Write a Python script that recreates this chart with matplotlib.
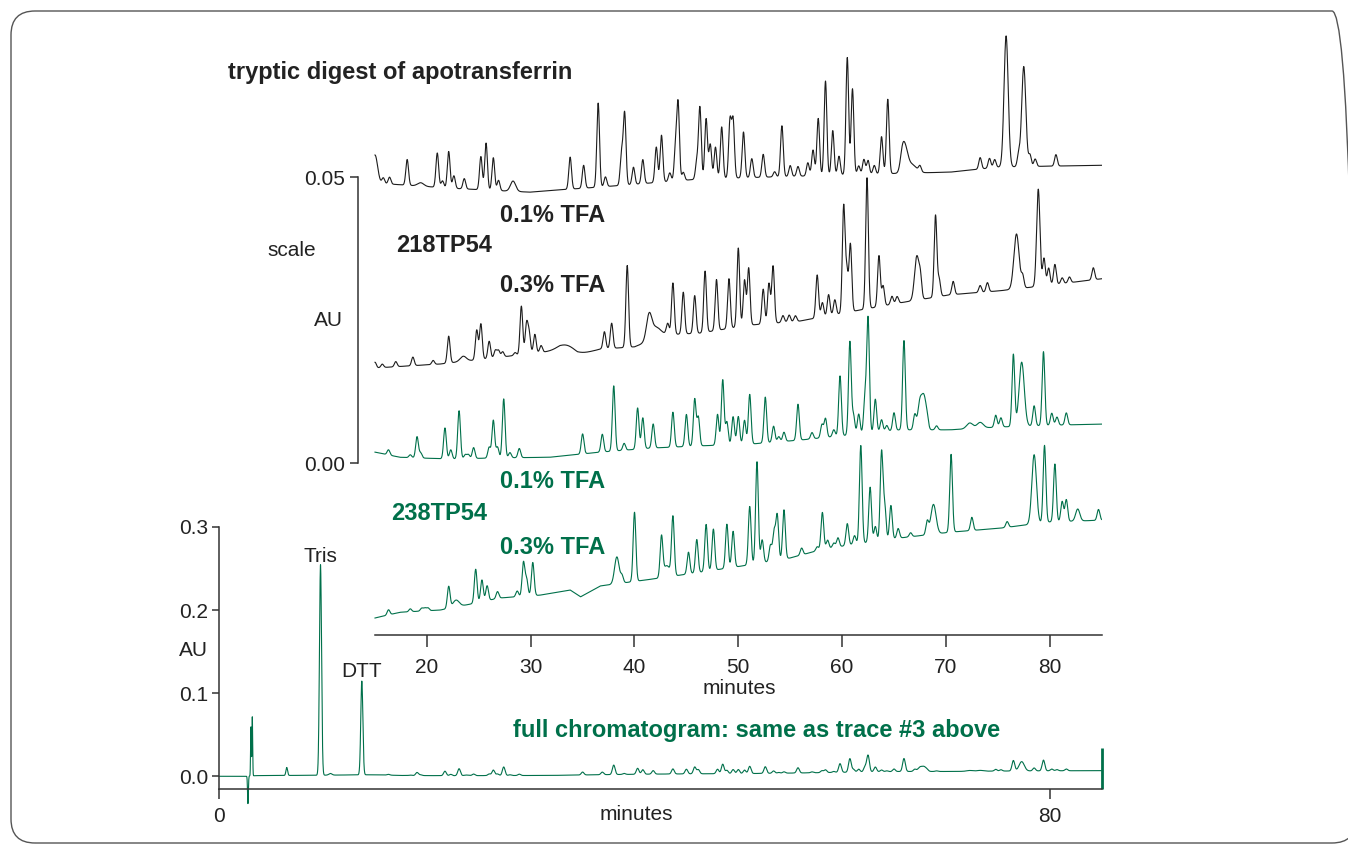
import numpy as np
import matplotlib.pyplot as plt
from matplotlib.patches import FancyBboxPatch
from matplotlib.transforms import IdentityTransform

plt.rcParams['font.family'] = ['Liberation Sans', 'DejaVu Sans']

# ---- data (minutes, AU) ----
# trace 1: 218TP54, 0.1% TFA
t1_base_min = [15.0, 22.2, 29.9, 32.8, 36.7, 46.3, 55.9, 65.6, 70.4, 75.2, 85.0]
t1_base_au = [0, -0.0009, -0.0016, -0.0012, -0.0007, 0.0007, 0.0012, 0.0017, 0.0019, 0.0028, 0.0031]
t1_peaks = [(15.0, 0.0049), (15.8, 0.0010), (16.4, 0.0012), (18.1, 0.0045), (19.4, 0.0006),
            (21.0, 0.0060), (21.5, 0.0012), (22.1, 0.0064), (22.6, 0.0022), (23.6, 0.0018),
            (25.2, 0.0058), (25.7, 0.0082), (26.4, 0.0057), (26.9, 0.0018), (28.3, 0.0018),
            (33.8, 0.0056), (35.1, 0.0040), (36.5, 0.0147), (37.2, 0.0017), (38.75, 0.0055),
            (39.05, 0.0125), (39.9, 0.0030), (40.8, 0.0042), (42.1, 0.0062), (42.6, 0.0082),
            (43.4, 0.0015), (43.95, 0.0055), (44.2, 0.0132), (44.7, 0.0014), (46.0, 0.0030),
            (46.3, 0.0125), (46.9, 0.0105), (47.3, 0.0060), (47.8, 0.0055), (48.4, 0.0090),
            (49.2, 0.0100), (49.5, 0.0100), (50.5, 0.0080), (51.3, 0.0033), (52.4, 0.0040),
            (53.5, 0.0009), (54.2, 0.0089), (55.0, 0.0019), (55.75, 0.0017), (56.7, 0.0023),
            (57.2, 0.0045), (57.7, 0.0100), (58.4, 0.0165), (59.1, 0.0078), (59.7, 0.0033),
            (60.5, 0.0205), (61.0, 0.0150), (61.6, 0.0015), (62.1, 0.0026), (62.5, 0.0024),
            (63.1, 0.0015), (63.8, 0.0065), (64.4, 0.0130), (65.8, 0.0030), (66.1, 0.0035),
            (66.7, 0.0015), (67.5, 0.0010), (73.3, 0.0020), (74.2, 0.0017), (74.7, 0.0014),
            (75.8, 0.0229), (77.0, 0.0020), (77.5, 0.0175), (78.1, 0.0020), (78.6, 0.0013),
            (80.6, 0.0020)]
t1_broad = {15.0: 0.25, 19.4: 0.3, 28.3: 0.25, 65.8: 0.2, 66.1: 0.25, 66.7: 0.45,
            75.8: 0.2, 77.5: 0.2}

# trace 2: 218TP54, 0.3% TFA
t2_base_min = [15.0, 21.3, 29.0, 32.8, 34.5, 36.7, 40.0, 43.0, 46.3, 51.1, 55.9, 60.7, 65.6,
               70.4, 75.2, 80.0, 85.0]
t2_base_au = [0, 0.0007, 0.0023, 0.0031, 0.0023, 0.0033, 0.0037, 0.0058, 0.0061, 0.0075,
              0.0082, 0.0098, 0.0114, 0.0128, 0.0135, 0.0145, 0.0156]
t2_peaks = [(15.0, 0.0010), (15.7, 0.0006), (17.0, 0.0009), (18.65, 0.0015), (20.6, 0.0007),
            (22.1, 0.0047), (23.5, 0.0009), (24.8, 0.0052), (25.2, 0.0062), (26.0, 0.0030),
            (26.6, 0.0013), (26.9, 0.0012), (27.3, 0.0009), (28.5, 0.0005), (29.1, 0.0085),
            (29.6, 0.0052), (29.85, 0.0035), (30.4, 0.0033), (31.0, 0.0012), (33.5, 0.0012),
            (37.1, 0.0030), (37.8, 0.0044), (39.3, 0.0143), (41.4, 0.0040), (42.0, 0.0020),
            (43.2, 0.0019), (43.7, 0.0090), (44.7, 0.0073), (45.8, 0.0066), (46.8, 0.0107),
            (47.9, 0.0089), (49.1, 0.0087), (50.0, 0.0138), (50.6, 0.0080), (51.0, 0.0100),
            (52.4, 0.0061), (52.95, 0.0070), (53.35, 0.0100), (54.3, 0.0012), (54.9, 0.0012),
            (55.5, 0.0010), (57.6, 0.0075), (58.1, 0.0025), (58.7, 0.0037), (59.3, 0.0026),
            (60.15, 0.0185), (60.45, 0.0070), (60.8, 0.0118), (62.4, 0.0229), (63.55, 0.0089),
            (63.95, 0.0035), (64.8, 0.0014), (65.3, 0.0012), (67.2, 0.0077), (67.55, 0.0030),
            (69.0, 0.0143), (69.35, 0.0030), (70.7, 0.0023), (73.3, 0.0012), (74.0, 0.0016),
            (76.8, 0.0096), (77.4, 0.0020), (78.9, 0.0170), (79.45, 0.0048), (79.9, 0.0030),
            (80.5, 0.0035), (81.2, 0.0010), (81.9, 0.0010), (84.2, 0.0021)]
t2_broad = {23.5: 0.3, 33.5: 0.8, 41.4: 0.25, 42.0: 0.5, 67.2: 0.22, 76.8: 0.25, 78.9: 0.16}

# trace 3: 238TP54, 0.1% TFA (also the full chromatogram)
t3_base_min = [0, 2.6, 3.5, 9.0, 15.0, 17.4, 22.2, 27.0, 31.8, 36.7, 41.5, 46.3, 51.1, 55.9,
               60.7, 65.6, 70.4, 75.2, 80.0, 85.0]
t3_base_au = [0.0, 0.0, 0.0008, 0.0012, 0.0019, 0.0010, 0.0007, 0.0009, 0.0010, 0.0019,
              0.0026, 0.0030, 0.0033, 0.0040, 0.0049, 0.0058, 0.0058, 0.0063, 0.0066, 0.0068]
t3_peaks = [(16.3, 0.0009), (18.4, 0.0005), (19.05, 0.0037), (19.4, 0.0009), (21.74, 0.0054),
            (22.3, 0.0016), (23.1, 0.0084), (23.7, 0.0007), (24.0, 0.0007), (24.5, 0.0019),
            (26.0, 0.0019), (26.4, 0.0066), (26.8, 0.0019), (27.4, 0.0103), (28.0, 0.0009),
            (28.9, 0.0016), (35.0, 0.0035), (36.9, 0.0031), (38.0, 0.0114), (39.0, 0.0012),
            (40.3, 0.0072), (40.8, 0.0054), (41.8, 0.0042), (43.7, 0.0061), (45.0, 0.0056),
            (45.8, 0.0082), (46.15, 0.0050), (48.0, 0.0054), (48.5, 0.0114), (48.9, 0.0040),
            (49.5, 0.0049), (50.0, 0.0049), (50.6, 0.0042), (51.1, 0.0087), (52.6, 0.0080),
            (53.4, 0.0028), (53.9, 0.0009), (54.4, 0.0016), (55.75, 0.0063), (57.1, 0.0011),
            (58.06, 0.0023), (58.4, 0.0033), (59.2, 0.0012), (59.8, 0.0105), (60.75, 0.0163),
            (61.1, 0.0033), (61.6, 0.0035), (62.2, 0.0060), (62.5, 0.0200), (63.2, 0.0058),
            (63.8, 0.0021), (64.3, 0.0010), (65.0, 0.0031), (65.96, 0.0156), (67.0, 0.0026),
            (67.5, 0.0049), (67.9, 0.0054), (68.2, 0.0014), (69.1, 0.0007), (72.3, 0.0010),
            (73.3, 0.0010), (74.8, 0.0021), (75.3, 0.0016), (76.5, 0.0126), (77.3, 0.0112),
            (78.5, 0.0035), (79.4, 0.0129), (80.2, 0.0021), (80.7, 0.0014), (81.6, 0.0021)]
t3_broad = {67.5: 0.2, 67.9: 0.2, 72.3: 0.3, 73.3: 0.3, 77.3: 0.25}

# trace 4: 238TP54, 0.3% TFA
t4_base_min = [15.0, 17.4, 21.3, 24.1, 27.0, 30.9, 33.8, 34.8, 36.7, 39.6, 42.5, 46.3, 51.1,
               55.0, 57.9, 60.8, 65.6, 70.4, 75.2, 80.0, 85.0]
t4_base_au = [0, 0.0010, 0.0014, 0.0024, 0.0035, 0.0040, 0.0049, 0.0037, 0.0056, 0.0063,
              0.0070, 0.0080, 0.0093, 0.0105, 0.0119, 0.0128, 0.0140, 0.0150, 0.0157, 0.0168,
              0.0171]
t4_peaks = [(16.3, 0.0009), (18.4, 0.0005), (19.5, 0.0005), (19.8, 0.0005), (20.1, 0.0005),
            (22.1, 0.0038), (22.8, 0.0012), (24.7, 0.0059), (25.3, 0.0038), (25.8, 0.0026),
            (26.8, 0.0012), (28.7, 0.0010), (29.3, 0.0059), (29.6, 0.0030), (30.2, 0.0058),
            (38.3, 0.0047), (38.8, 0.0012), (40.0, 0.0121), (42.6, 0.0070), (43.1, 0.0020),
            (43.7, 0.0103), (45.2, 0.0038), (46.0, 0.0058), (46.9, 0.0082), (47.6, 0.0072),
            (48.9, 0.0077), (49.5, 0.0063), (51.1, 0.0102), (51.8, 0.0178), (52.3, 0.0040),
            (53.1, 0.0028), (53.45, 0.0050), (53.75, 0.0078), (54.4, 0.0086), (56.1, 0.0012),
            (57.6, 0.0007), (58.1, 0.0065), (58.6, 0.0015), (59.2, 0.0008), (59.6, 0.0016),
            (60.5, 0.0038), (61.2, 0.0015), (61.8, 0.0171), (62.7, 0.0096), (63.2, 0.0026),
            (63.8, 0.0154), (64.1, 0.0060), (64.7, 0.0059), (65.4, 0.0017), (66.6, 0.0007),
            (68.2, 0.0023), (68.8, 0.0052), (70.5, 0.0136), (72.5, 0.0023), (75.9, 0.0010),
            (78.5, 0.0121), (79.5, 0.0135), (80.5, 0.0101), (81.2, 0.0035), (81.6, 0.0038),
            (82.7, 0.0021), (84.7, 0.0019)]
t4_broad = {22.8: 0.3, 38.3: 0.22, 43.1: 0.3, 68.8: 0.25, 78.5: 0.22, 82.7: 0.2}

# early part of the full chromatogram (injection, Tris, DTT)
full_early_peaks = [(2.76, -0.033), (3.05, 0.059), (3.18, 0.071), (6.5, 0.0096),
                    (9.75, 0.2533), (10.7, 0.002), (13.73, 0.1128)]
full_early_sd = {2.76: 0.04, 3.05: 0.035, 3.18: 0.035, 6.5: 0.08, 9.75: 0.1,
                 10.7: 0.15, 13.73: 0.1}
full_end_marker = [-0.0156, 0.034]

upper_ticks = [20, 30, 40, 50, 60, 70, 80]
scale_ticks = [0.00, 0.05]
lower_xticks = [0, 80]
lower_yticks = [0.0, 0.1, 0.2, 0.3]

BLACK = '#1c1c1c'
GREEN = '#00704a'
AXC = '#333333'
W, H = 1348, 844


def trace(t, base_min, base_au, peaks, broad, sd=0.13):
    y = np.interp(t, base_min, base_au)
    for tm, h in peaks:
        s = broad.get(tm, sd)
        y = y + h * np.exp(-0.5 * ((t - tm) / s) ** 2)
    return y


def fx(px):
    return px / W


def fy(py):
    return 1 - py / H


t_up = np.arange(15.0, 85.0001, 0.01)
t_full = np.arange(0.0, 85.0001, 0.01)

fig = plt.figure(figsize=(W / 100, H / 100), dpi=100)

# frame
fig.add_artist(FancyBboxPatch((11, 1), 1345, 832, boxstyle='round,pad=0,rounding_size=24',
                              transform=IdentityTransform(), fill=False, ec='#555555', lw=1.0))

# ---- lower panel: full chromatogram ----
ax2 = fig.add_axes([fx(219.3), fy(789), fx(1101.6 - 219.3), 262 / H])
ax2.patch.set_visible(False)
ax2.set_xlim(0, 85)
ax2.set_ylim(-0.0153, 0.3)
full = trace(t_full, t3_base_min, t3_base_au, t3_peaks + full_early_peaks,
             {**t3_broad, **full_early_sd})
ax2.plot(t_full, full, color=GREEN, lw=0.8, clip_on=False)
ax2.vlines(85, full_end_marker[0], full_end_marker[1], color=GREEN, lw=2, clip_on=False)
for s in ['top', 'right']:
    ax2.spines[s].set_visible(False)
for s in ['left', 'bottom']:
    ax2.spines[s].set_color(AXC)
    ax2.spines[s].set_linewidth(1.1)
ax2.set_xticks(lower_xticks)
ax2.set_xticklabels([str(v) for v in lower_xticks])
ax2.set_yticks(lower_yticks)
ax2.set_yticklabels(['%.1f' % v for v in lower_yticks])
ax2.tick_params(axis='x', direction='out', length=7, width=1.1, pad=6, labelsize=15,
                color=AXC, labelcolor='#222222')
ax2.tick_params(axis='y', direction='out', length=5, width=1.1, pad=3, labelsize=15,
                color=AXC, labelcolor='#222222')
ax2.text(9.75, 0.265, 'Tris', ha='center', va='center', fontsize=15, color='#222222')
ax2.text(13.75, 0.126, 'DTT', ha='center', va='center', fontsize=15, color='#222222')

# ---- upper panel: four stacked traces ----
ax = fig.add_axes([fx(354.24), fy(635), fx(1101.6 - 354.24), 615 / H])
ax.patch.set_visible(False)
ax.set_xlim(13.0, 85.0)
ax.set_ylim(-0.03007, 0.07745)

ax.plot(t_up, 0.04895 + trace(t_up, t1_base_min, t1_base_au, t1_peaks, t1_broad), color=BLACK, lw=0.8)
ax.plot(t_up, 0.01661 + trace(t_up, t2_base_min, t2_base_au, t2_peaks, t2_broad), color=BLACK, lw=0.8)
ax.plot(t_up, trace(t_up, t3_base_min, t3_base_au, t3_peaks, t3_broad), color=GREEN, lw=0.8)
ax.plot(t_up, -0.0271 + trace(t_up, t4_base_min, t4_base_au, t4_peaks, t4_broad), color=GREEN, lw=0.8)

for s in ['top', 'right']:
    ax.spines[s].set_visible(False)
ax.spines['left'].set_position(('data', 13.36))
ax.spines['left'].set_bounds(0, 0.05)
ax.spines['bottom'].set_bounds(15, 85)
for s in ['left', 'bottom']:
    ax.spines[s].set_color(AXC)
    ax.spines[s].set_linewidth(1.1)
ax.set_xticks(upper_ticks)
ax.set_xticklabels([str(v) for v in upper_ticks])
ax.set_yticks(scale_ticks)
ax.set_yticklabels(['%.2f' % v for v in scale_ticks])
ax.tick_params(axis='x', direction='out', length=8.5, width=1.1, pad=8, labelsize=15,
               color=AXC, labelcolor='#222222')
ax.tick_params(axis='y', direction='out', length=6, width=1.1, pad=3, labelsize=15,
               color=AXC, labelcolor='#222222')

# ---- labels ----
bold = dict(fontsize=17, fontweight='bold', ha='left', va='center')
fig.text(fx(228), fy(73), 'tryptic digest of apotransferrin', color='#222222', **bold)
fig.text(fx(500), fy(216), '0.1% TFA', color='#222222', **bold)
fig.text(fx(396), fy(246), '218TP54', color='#222222', **bold)
fig.text(fx(500), fy(285), '0.3% TFA', color='#222222', **bold)
fig.text(fx(500), fy(482), '0.1% TFA', color=GREEN, **bold)
fig.text(fx(391), fy(514), '238TP54', color=GREEN, **bold)
fig.text(fx(500), fy(547), '0.3% TFA', color=GREEN, **bold)
fig.text(fx(513), fy(730), 'full chromatogram: same as trace #3 above', color=GREEN, **bold)

reg = dict(fontsize=15, ha='center', va='center', color='#222222')
fig.text(fx(292), fy(251), 'scale', **reg)
fig.text(fx(328), fy(321), 'AU', **reg)
fig.text(fx(193), fy(650), 'AU', **reg)
fig.text(fx(739), fy(688), 'minutes', **reg)
fig.text(fx(636), fy(815), 'minutes', **reg)

fig.savefig('out.png', dpi=100)
